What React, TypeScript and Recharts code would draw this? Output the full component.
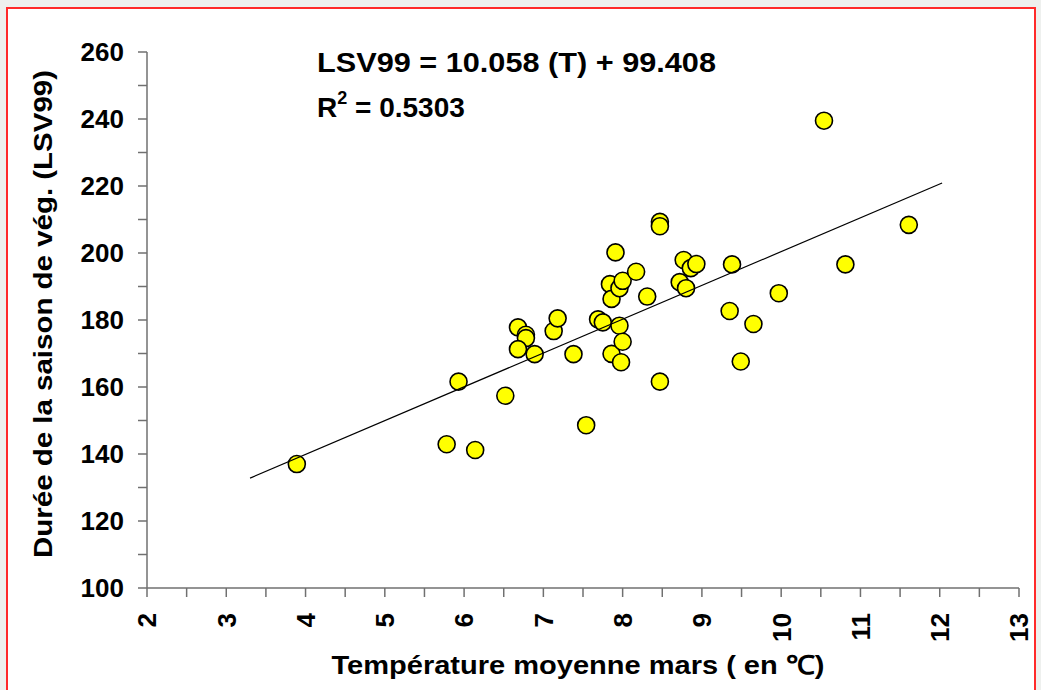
import React from 'react';
import { ScatterChart, Scatter, XAxis, YAxis } from 'recharts';

// Température moyenne de mars (°C) et durée de la saison de végétation (LSV99)
const temperatures = [
  3.89, 5.78, 6.14, 5.93, 6.52, 6.68, 6.78, 6.78, 6.68, 6.89, 7.13,
  7.18, 7.38, 7.54, 7.69, 7.75, 7.84, 7.86, 7.86, 7.91, 7.96, 7.96,
  7.98, 8.0, 8.0, 8.17, 8.31, 8.47, 8.47, 8.47, 8.72, 8.77, 8.8,
  8.86, 8.93, 9.35, 9.38, 9.49, 9.65, 9.97, 10.54, 10.81, 11.61
];
const lsv99 = [
  137.0, 142.9, 141.2, 161.6, 157.4, 177.8, 175.6, 174.6, 171.3, 169.8, 176.7,
  180.5, 169.8, 148.6, 180.2, 179.3, 190.7, 186.3, 169.9, 200.2, 189.5, 178.3,
  167.4, 191.7, 173.5, 194.4, 187.0, 209.3, 208.0, 161.6, 191.3, 197.9, 189.5,
  195.5, 196.7, 182.7, 196.6, 167.6, 178.8, 188.0, 239.5, 196.6, 208.4
];

// droite de régression
const trendX = [3.3, 12.03];
const trendY = [132.8, 220.9];

const xTicks = [2, 2.5, 3, 3.5, 4, 4.5, 5, 5.5, 6, 6.5, 7, 7.5, 8, 8.5, 9, 9.5, 10, 10.5, 11, 11.5, 12, 12.5, 13];
const yTicks = [100, 110, 120, 130, 140, 150, 160, 170, 180, 190, 200, 210, 220, 230, 240, 250, 260];

const equationText = 'LSV99 = 10.058 (T) + 99.408';
const r2Value = ' = 0.5303';
const xTitle = 'Température moyenne mars ( en \u2103)';
const yTitle = 'Durée de la saison de vég. (LSV99)';

const points = temperatures.map((t, i) => ({ x: t, y: lsv99[i] }));
const trend = trendX.map((t, i) => ({ x: t, y: trendY[i] }));

const FONT = '"Liberation Sans", Arial, sans-serif';
const AXIS = '#707070';

const XTick = (props: any) => {
  const { x, y, payload } = props;
  if (!Number.isInteger(payload.value)) return <g />;
  const top = y + 14;
  return (
    <text
      x={x}
      y={top}
      transform={`rotate(-90, ${x}, ${top})`}
      textAnchor="end"
      dy="0.36em"
      fontFamily={FONT}
      fontWeight="bold"
      fontSize={26}
      fill="#000"
    >
      {payload.value}
    </text>
  );
};

const YTick = (props: any) => {
  const { x, y, payload } = props;
  if (payload.value % 20 !== 0) return <g />;
  return (
    <text
      x={x - 12}
      y={y}
      textAnchor="end"
      dy="0.36em"
      fontFamily={FONT}
      fontWeight="bold"
      fontSize={26}
      fill="#000"
    >
      {payload.value}
    </text>
  );
};

const Dot = (props: any) => (
  <circle cx={props.cx} cy={props.cy} r={8.5} fill="#ffff00" stroke="#000" strokeWidth={1.6} />
);

const NoDot = () => <g />;

export default function App() {
  return (
    <div style={{ position: 'absolute', left: 0, top: 0, width: 1041, height: 690, background: '#eef0ee', overflow: 'hidden' }}>
      <div
        style={{
          position: 'absolute',
          left: 6,
          top: 7,
          width: 1026,
          height: 700,
          background: '#fff',
          border: '2px solid #ff2a2a'
        }}
      />
      <div style={{ position: 'absolute', left: 0, top: 0 }}>
        <ScatterChart width={1041} height={690} margin={{ top: 52, right: 22, bottom: 0, left: 0 }}>
          <XAxis
            type="number"
            dataKey="x"
            domain={[2, 13]}
            ticks={xTicks}
            interval={0}
            allowDataOverflow
            height={102}
            tickSize={9}
            stroke={AXIS}
            strokeWidth={1.5}
            tick={<XTick />}
          />
          <YAxis
            type="number"
            dataKey="y"
            domain={[100, 260]}
            ticks={yTicks}
            interval={0}
            allowDataOverflow
            width={147}
            tickSize={9}
            stroke={AXIS}
            strokeWidth={1.5}
            tick={<YTick />}
          />
          <Scatter data={points} shape={<Dot />} isAnimationActive={false} />
          <Scatter
            data={trend}
            line={{ stroke: '#000', strokeWidth: 1.2 }}
            shape={<NoDot />}
            isAnimationActive={false}
          />
          <text x={317} y={72} fontFamily={FONT} fontWeight="bold" fontSize={27} textLength={399} lengthAdjust="spacingAndGlyphs">
            {equationText}
          </text>
          <text x={317} y={117} fontFamily={FONT} fontWeight="bold" fontSize={28}>
            R
            <tspan fontSize={18} dy={-13}>2</tspan>
            <tspan dy={13}>{r2Value}</tspan>
          </text>
          <text x={578} y={674} textAnchor="middle" fontFamily={FONT} fontWeight="bold" fontSize={26} textLength={493} lengthAdjust="spacingAndGlyphs">
            {xTitle}
          </text>
          <text
            x={43}
            y={314}
            transform="rotate(-90, 43, 314)"
            textAnchor="middle"
            dy="0.36em"
            fontFamily={FONT}
            fontWeight="bold"
            fontSize={26}
            textLength={488}
            lengthAdjust="spacingAndGlyphs"
          >
            {yTitle}
          </text>
        </ScatterChart>
      </div>
    </div>
  );
}
